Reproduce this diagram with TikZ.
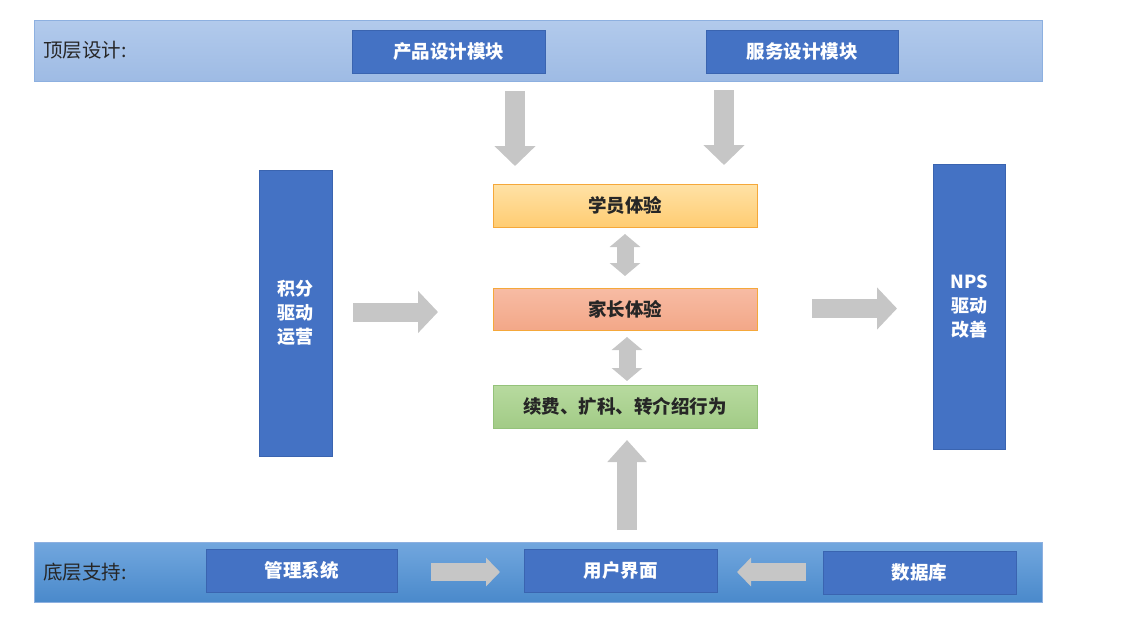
\documentclass[tikz,border=0pt]{standalone}
\usepackage{fontspec}
\setmainfont{Noto Sans CJK SC}
\usetikzlibrary{arrows.meta,calc}
\definecolor{bandtopA}{HTML}{B2CAEC}
\definecolor{bandtopB}{HTML}{9EBBE4}
\definecolor{bandbotA}{HTML}{72A7DE}
\definecolor{bandbotB}{HTML}{4A89CB}
\definecolor{bandline}{HTML}{8DB0E0}
\definecolor{boxblue}{HTML}{4472C4}
\definecolor{boxblueline}{HTML}{3A64B0}
\definecolor{orA}{HTML}{FFE2A6}
\definecolor{orB}{HTML}{FFCC72}
\definecolor{orline}{HTML}{F5A83A}
\definecolor{saA}{HTML}{F7BCA4}
\definecolor{saB}{HTML}{F3A788}
\definecolor{grA}{HTML}{B7DA9F}
\definecolor{grB}{HTML}{A2CB86}
\definecolor{grline}{HTML}{94C27A}
\definecolor{arrgray}{HTML}{C6C6C6}
\tikzset{
  x=1pt, y=1pt,
  band/.style={draw=bandline, line width=0.8pt, inner sep=0pt},
  bluebox/.style={draw=boxblueline, line width=0.8pt, fill=boxblue, text=white,
    font=\fontsize{18.5}{21}\selectfont\bfseries, inner sep=0pt, align=center},
  midbox/.style={line width=0.9pt, minimum width=264pt, inner sep=0pt,
    font=\fontsize{18.5}{21}\selectfont\bfseries, text=black!85},
  bandlabel/.style={anchor=west, font=\fontsize{19.5}{21}\selectfont, text=black!85, inner sep=0pt},
  bigarrow/.style={draw=arrgray, line width=20pt,
    -{Triangle[width=40pt,length=20pt,fill=arrgray]}},
  dblarrow/.style={draw=arrgray, line width=17pt,
    {Triangle[width=30pt,length=13pt]}-{Triangle[width=30pt,length=13pt]}},
  smallarrow/.style={draw=arrgray, line width=18pt,
    -{Triangle[width=28pt,length=14pt]}},
}
\begin{document}
\begin{tikzpicture}
\useasboundingbox (0,0) rectangle (1128,-625);
% bands
\node[band, top color=bandtopA, bottom color=bandtopB, minimum width=1008pt, minimum height=61pt] (topband) at (538,-50.5) {};
\node[band, top color=bandbotA, bottom color=bandbotB, minimum width=1008pt, minimum height=60pt] (botband) at (538,-572) {};
\node[bandlabel] (toplabel) at (43,-50) {顶层设计:};
\node[bandlabel] (botlabel) at (43,-572) {底层支持:};
% top modules
\node[bluebox, minimum width=193pt, minimum height=43pt] (prod) at (448.5,-51.5) {产品设计模块};
\node[bluebox, minimum width=192pt, minimum height=43pt] (serv) at (802,-51.5) {服务设计模块};
% middle
\node[midbox, draw=orline, top color=orA, bottom color=orB, minimum height=43pt] (stu) at (625,-205.5) {学员体验};
\node[midbox, draw=orline, top color=saA, bottom color=saB, minimum height=42pt] (par) at (625,-309) {家长体验};
\node[midbox, draw=grline, top color=grA, bottom color=grB, minimum height=43pt] (act) at (625,-406.5) {续费、扩科、转介绍行为};
% side columns
\node[bluebox, minimum width=73pt, minimum height=286pt, font=\fontsize{18}{24}\selectfont\bfseries] (points) at (295.5,-313) {积分\\驱动\\运营};
\node[bluebox, minimum width=72pt, minimum height=285pt, font=\fontsize{18}{24}\selectfont\bfseries] (nps) at (969,-306.5) {NPS\\驱动\\改善};
% bottom modules
\node[bluebox, minimum width=191pt, minimum height=43pt] (mgmt) at (301.5,-570.5) {管理系统};
\node[bluebox, minimum width=193pt, minimum height=43pt] (ui) at (620.5,-570.5) {用户界面};
\node[bluebox, minimum width=193pt, minimum height=43pt] (db) at (919.5,-572.5) {数据库};
% arrow end coordinates
\coordinate (a1s) at (515,-91);  \coordinate (a1e) at (515,-166);
\coordinate (a2s) at (724,-90);  \coordinate (a2e) at (724,-165);
\coordinate (a3s) at (625,-234); \coordinate (a3e) at (625,-276);
\coordinate (a4s) at (627,-337); \coordinate (a4e) at (627,-381);
\coordinate (a5s) at (627,-530); \coordinate (a5e) at (627,-440);
\coordinate (a6s) at (353,-312); \coordinate (a6e) at (438,-312);
\coordinate (a7s) at (812,-308.5); \coordinate (a7e) at (897,-308.5);
\coordinate (a8s) at (431,-572); \coordinate (a8e) at (500,-572);
\coordinate (a9s) at (806,-572); \coordinate (a9e) at (737,-572);
% arrows
\draw[bigarrow] (a1s) -- (a1e);
\draw[bigarrow] (a2s) -- (a2e);
\draw[dblarrow] (a3s) -- (a3e);
\draw[dblarrow] (a4s) -- (a4e);
\draw[bigarrow, -{Triangle[width=38pt,length=22pt]}] (a5s) -- (a5e);
\draw[bigarrow, line width=19pt, -{Triangle[width=41pt,length=20pt]}] (a6s) -- (a6e);
\draw[bigarrow, line width=19pt, -{Triangle[width=41pt,length=20pt]}] (a7s) -- (a7e);
\draw[smallarrow] (a8s) -- (a8e);
\draw[smallarrow] (a9s) -- (a9e);
\end{tikzpicture}
\end{document}
